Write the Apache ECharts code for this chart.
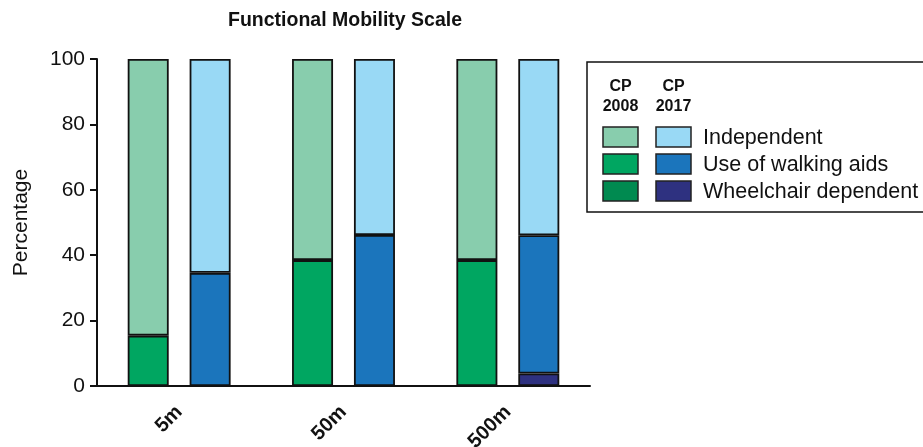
<!DOCTYPE html>
<html>
<head>
<meta charset="utf-8">
<script src="https://cdn.jsdelivr.net/npm/echarts@6/dist/echarts.min.js"></script>
<style>html,body{margin:0;padding:0;background:#fff;}#c{width:923px;height:447px;}</style>
</head>
<body>
<div id="c"></div>
<script>
const categories = ['5m', '50m', '500m'];
const yTicks = [0, 20, 40, 60, 80, 100];
// CP 2008 (percent)
const cp2008Wheelchair = [0, 0, 0];
const cp2008Walking = [15.4, 38.5, 38.5];
const cp2008Independent = [84.6, 61.5, 61.5];
// CP 2017 (percent)
const cp2017Wheelchair = [0, 0, 3.8];
const cp2017Walking = [34.6, 46.2, 42.3];
const cp2017Independent = [65.4, 53.8, 53.9];
const legendLabels = ['Independent', 'Use of walking aids', 'Wheelchair dependent'];
const legendHeaders = [['CP', '2008'], ['CP', '2017']];

const col2008 = ['#88cdad', '#00a661', '#008a50'];
const col2017 = ['#99d9f5', '#1b75bc', '#2e3180'];
const font = 'Liberation Sans, Arial, Helvetica, sans-serif';

function bar(name, stack, data, color) {
  return {
    name, type: 'bar', stack, data, barWidth: 41, barGap: '51%',
    itemStyle: { color, borderColor: '#111', borderWidth: 1.8 },
    emphasis: { disabled: true }, animation: false
  };
}

const chart = echarts.init(document.getElementById('c'));

const graphic = [];
graphic.push({ type: 'text', style: { text: 'Functional Mobility Scale', x: 345, y: 21,
  align: 'center', verticalAlign: 'middle', font: 'bold 19.5px ' + font, fill: '#111' } });
graphic.push({ type: 'rect', shape: { x: 587, y: 62, width: 345, height: 150 },
  style: { fill: '#fff', stroke: '#111', lineWidth: 1.5 } });
const colX = [603, 656];
legendHeaders.forEach((h, i) => {
  graphic.push({ type: 'text', style: { text: h[0] + '\n' + h[1], x: colX[i] + 17.5, y: 77,
    align: 'center', verticalAlign: 'top', font: 'bold 16px ' + font, fill: '#111', lineHeight: 20 } });
});
const rowY = [127, 154, 181];
legendLabels.forEach((lab, r) => {
  graphic.push({ type: 'rect', shape: { x: colX[0], y: rowY[r], width: 35, height: 20 },
    style: { fill: col2008[r], stroke: '#222', lineWidth: 1.5 } });
  graphic.push({ type: 'rect', shape: { x: colX[1], y: rowY[r], width: 35, height: 20 },
    style: { fill: col2017[r], stroke: '#222', lineWidth: 1.5 } });
  graphic.push({ type: 'text', style: { text: lab, x: 703, y: rowY[r] + 11, verticalAlign: 'middle',
    font: '21.5px ' + font, fill: '#111' } });
});

chart.setOption({
  animation: false,
  backgroundColor: '#fff',
  grid: { left: 97, right: 333, top: 59, bottom: 61, containLabel: false, outerBoundsMode: 'none' },
  xAxis: {
    type: 'category', data: categories,
    axisLine: { lineStyle: { color: '#111', width: 2 } },
    axisTick: { alignWithLabel: true, length: 7, lineStyle: { color: '#111', width: 2 } },
    axisLabel: { rotate: 45, margin: 23, fontFamily: font, fontWeight: 'bold', fontSize: 20, color: '#111' }
  },
  yAxis: {
    type: 'value', min: yTicks[0], max: yTicks[yTicks.length - 1], interval: 20,
    name: 'Percentage', nameLocation: 'middle', nameGap: 65, nameRotate: 90,
    nameTextStyle: { fontFamily: font, fontSize: 21, color: '#111' },
    axisLine: { show: true, lineStyle: { color: '#111', width: 2 } },
    axisTick: { show: true, length: 7, lineStyle: { color: '#111', width: 2 } },
    splitLine: { show: false },
    axisLabel: { margin: 12, fontFamily: font, fontSize: 21, color: '#111' }
  },
  series: [
    bar('2008 Wheelchair', 'a', cp2008Wheelchair, col2008[2]),
    bar('2008 Walking', 'a', cp2008Walking, col2008[1]),
    bar('2008 Independent', 'a', cp2008Independent, col2008[0]),
    bar('2017 Wheelchair', 'b', cp2017Wheelchair, col2017[2]),
    bar('2017 Walking', 'b', cp2017Walking, col2017[1]),
    bar('2017 Independent', 'b', cp2017Independent, col2017[0])
  ],
  graphic
});
</script>
</body>
</html>
